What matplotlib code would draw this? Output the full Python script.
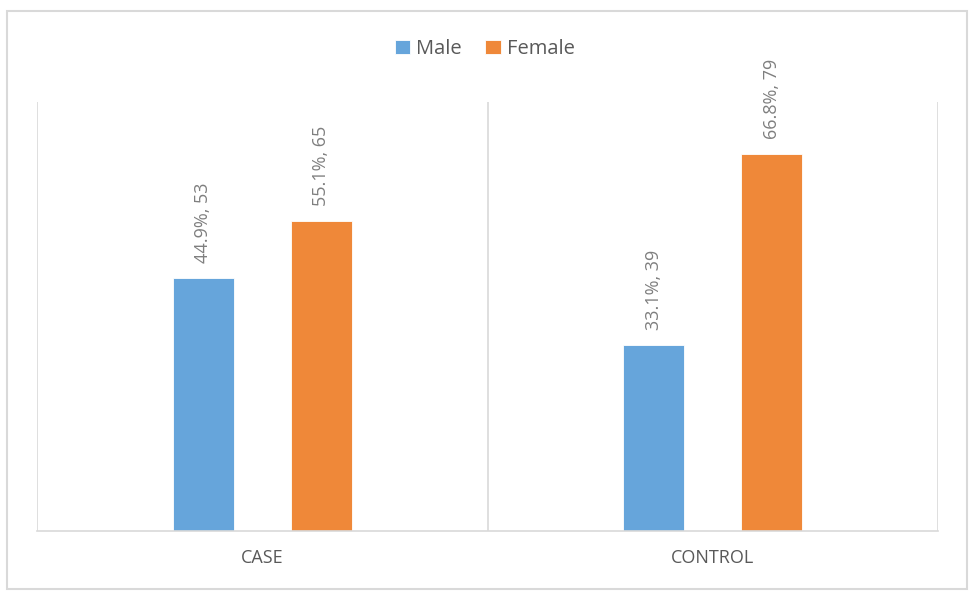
import matplotlib.pyplot as plt
from matplotlib.patches import Rectangle
import numpy as np

groups = ['CASE', 'CONTROL']
male_n = [53, 39]
female_n = [65, 79]
male_pct = [44.9, 33.1]
female_pct = [55.1, 66.8]

blue = '#66A5DB'
orange = '#EF8839'
grey = '#595959'
line_c = '#D9D9D9'

fig = plt.figure(figsize=(9.69, 5.92), dpi=100)
ax = fig.add_axes([37/969, 1 - 531/592, (938 - 37)/969, (531 - 102)/592])

x = np.arange(len(groups))
w = 0.135
off = 0.131
b1 = ax.bar(x - off, male_n, w, color=blue, edgecolor='white', linewidth=0.6, label='Male')
b2 = ax.bar(x + off, female_n, w, color=orange, edgecolor='white', linewidth=0.6, label='Female')

for bars, pcts, ns in [(b1, male_pct, male_n), (b2, female_pct, female_n)]:
    for b, p, n in zip(bars, pcts, ns):
        ax.annotate(f'{p}%, {n}', (b.get_x() + b.get_width()/2, b.get_height()),
                    xytext=(0, 11), textcoords='offset points', rotation=90,
                    ha='center', va='bottom', fontsize=13, color='#7F7F7F',
                    family='Open Sans')

ax.set_xlim(-0.5, 1.5)
ax.set_ylim(0, 90)
ax.set_yticks([])
ax.set_xticks(x)
ax.set_xticklabels(groups, fontsize=13, color=grey, family='Open Sans')
ax.tick_params(axis='x', length=0, pad=13)
for s in ['top', 'right', 'left']:
    ax.spines[s].set_visible(False)
ax.spines['bottom'].set_color(line_c)
ax.spines['bottom'].set_linewidth(1.2)
for xv in [-0.5, 0.5, 1.5]:
    ax.axvline(xv, color=line_c, linewidth=1.2, zorder=0)

leg = fig.legend(loc='center', bbox_to_anchor=(0.5, 1 - 49/592), ncol=2, frameon=False,
                 handlelength=0.75, handleheight=0.75, handletextpad=0.3, columnspacing=1.2,
                 prop={'family': 'Open Sans', 'size': 14.5})
for t in leg.get_texts():
    t.set_color(grey)

fig.patches.append(Rectangle((7/969, 1 - 589/592), 960/969, 578/592, transform=fig.transFigure,
                             fill=False, edgecolor=line_c, linewidth=1.5))

fig.savefig('out.png', dpi=100)
